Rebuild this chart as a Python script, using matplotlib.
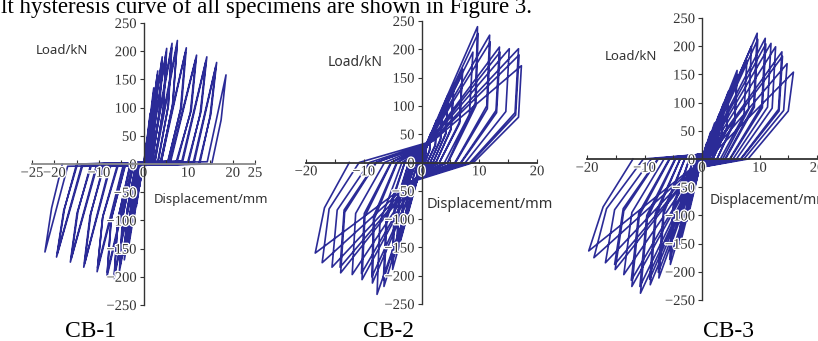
import numpy as np
import matplotlib
matplotlib.use("Agg")
import matplotlib.pyplot as plt
import matplotlib.patheffects as pe

# ---- CB-1 cycles (displacement mm, load kN), key points of each half loop ----
cb1_pos_load_d = [0.1, 0.1, 0.2, 0.2, 0.3, 0.4, 0.5, 0.6, 0.8, 0.9, 1.1, 1.3, 1.6, 1.8, 2.4, 2.6,
                  3.8, 4.0, 5.9, 6.1, 8.6, 8.8, 11.2, 11.4, 14.3]
cb1_pos_load_f = [3, 3, 4, 4, 5, 5, 5, 5, 6, 6, 6, 6, 6, 6, 6, 6, 5, 5, 5, 5, 5, 5, 4, 4, 4]
cb1_pos_peak_d = [0.8, 0.8, 1.5, 1.5, 2.3, 2.3, 3.2, 3.1, 4.2, 4.1, 5.2, 5.1, 6.4, 6.3, 7.6, 7.5,
                  9.6, 9.4, 11.9, 11.7, 14.2, 14.0, 16.4, 16.2, 18.5]
cb1_pos_peak_f = [45, 42, 90, 85, 135, 128, 165, 158, 190, 182, 205, 198, 214, 206, 219, 210,
                  206, 198, 193, 185, 190, 182, 180, 172, 158]
cb1_pos_unl_d = [0.6, 0.6, 1.2, 1.2, 1.9, 1.9, 2.7, 2.6, 3.6, 3.5, 4.5, 4.4, 5.6, 5.5, 6.6, 6.5,
                 8.5, 8.3, 10.7, 10.5, 12.9, 12.7, 15.1, 14.9, 17.4]
cb1_pos_unl_f = [22, 20, 45, 42, 66, 62, 80, 77, 93, 89, 100, 97, 105, 101, 108, 104,
                 101, 97, 95, 91, 93, 89, 88, 84, 78]
cb1_pos_zero = [0.3, 0.3, 0.6, 0.6, 1.0, 1.0, 1.4, 1.4, 1.9, 1.9, 2.4, 2.5, 3.1, 3.2, 3.8, 3.9,
                5.3, 5.4, 7.2, 7.4, 9.8, 10.0, 12.4, 12.6, 15.3]
cb1_neg_load_d = [-0.1, -0.1, -0.2, -0.2, -0.3, -0.3, -0.4, -0.5, -0.6, -0.7, -0.9, -1.0, -1.4, -1.5,
                  -2.4, -2.6, -4.4, -4.6, -7.4, -7.6, -10.4, -10.6, -13.7, -13.9, -17.0]
cb1_neg_load_f = [-4] * 25
cb1_neg_peak_d = [-0.9, -0.9, -1.6, -1.6, -2.4, -2.4, -3.3, -3.3, -4.3, -4.3, -5.4, -5.3, -6.6, -6.5,
                  -8.2, -8.1, -10.4, -10.3, -13.4, -13.2, -16.4, -16.2, -19.5, -19.3, -22.1]
cb1_neg_peak_f = [-40, -37, -75, -70, -110, -104, -145, -138, -170, -162, -190, -182, -203, -195,
                  -200, -192, -191, -184, -183, -176, -174, -167, -165, -158, -156]
cb1_neg_unl_d = [-0.7, -0.7, -1.3, -1.3, -2.0, -2.0, -2.8, -2.8, -3.7, -3.7, -4.7, -4.6, -5.8, -5.7,
                 -7.3, -7.2, -9.2, -9.1, -12.0, -11.8, -14.9, -14.7, -17.9, -17.7, -20.6]
cb1_neg_unl_f = [-20, -18, -38, -35, -55, -52, -72, -69, -85, -81, -95, -91, -100, -97,
                 -100, -96, -96, -92, -92, -88, -87, -84, -83, -79, -78]
cb1_neg_zero = [-0.3, -0.3, -0.5, -0.5, -0.8, -0.8, -1.2, -1.2, -1.7, -1.7, -2.2, -2.3, -2.9, -3.0,
                -4.0, -4.1, -5.6, -5.8, -8.7, -8.9, -11.6, -11.8, -14.8, -15.0, -18.2]

# ---- CB-2 cycles ----
cb2_pos_load_d = [0.1, 0.1, 0.1, 0.1, 0.2, 0.2, 0.2, 0.2, 0.3, 0.3, 0.3, 0.3, 0.3, 0.4, 0.4, 0.5,
                  0.5, 0.6, 0.7, 0.8, 0.9, 1.0, 1.5, 1.7, 2.0]
cb2_pos_load_f = [4, 4, 7, 7, 9, 9, 11, 11, 13, 13, 16, 16, 19, 20, 22, 25, 26, 28, 29, 30, 31, 32,
                  35, 36, 38]
cb2_pos_peak_d = [0.8, 0.8, 1.6, 1.6, 2.6, 2.6, 3.6, 3.6, 4.6, 4.6, 5.6, 5.6, 7.1, 7.1, 8.9, 9.7,
                  9.8, 11.8, 11.9, 13.5, 13.6, 15.2, 16.8, 16.9, 17.3]
cb2_pos_peak_f = [30, 28, 52, 49, 75, 71, 95, 90, 120, 114, 140, 133, 165, 157, 195, 240,
                  228, 225, 213, 204, 195, 201, 201, 190, 171]
cb2_pos_unl_d = [0.7, 0.7, 1.4, 1.4, 2.4, 2.4, 3.3, 3.3, 4.2, 4.2, 5.1, 5.1, 6.6, 6.6, 8.3, 9.3,
                 9.4, 11.3, 11.4, 12.9, 13.0, 14.6, 16.2, 16.3, 16.8]
cb2_pos_unl_f = [13, 12, 22, 21, 32, 30, 42, 40, 52, 50, 60, 58, 72, 69, 85, 105,
                 100, 100, 95, 92, 88, 90, 88, 84, 80]
cb2_pos_zero = [0.3, 0.3, 0.6, 0.6, 1.0, 1.0, 1.5, 1.5, 2.0, 2.0, 2.5, 2.5, 3.1, 3.1, 4.0, 4.5,
                4.6, 5.8, 5.9, 6.8, 6.9, 7.6, 8.4, 8.6, 9.0]
cb2_neg_load_d = [-0.1, -0.1, -0.1, -0.1, -0.2, -0.2, -0.2, -0.2, -0.3, -0.3, -0.3, -0.3, -0.4, -0.4,
                  -0.4, -0.5, -0.5, -0.6, -0.7, -0.8, -1.0, -1.1, -1.3, -1.6, -2.0]
cb2_neg_load_f = [-5, -5, -7, -7, -9, -9, -11, -11, -13, -13, -15, -15, -18, -18, -20, -22, -22,
                  -24, -25, -26, -28, -29, -30, -32, -35]
cb2_neg_peak_d = [-0.9, -0.9, -1.7, -1.7, -2.6, -2.6, -3.5, -3.5, -4.3, -4.3, -5.0, -5.1, -6.5, -6.6,
                  -7.7, -8.5, -8.6, -10.3, -10.4, -12.0, -14.0, -14.1, -15.5, -17.2, -18.4]
cb2_neg_peak_f = [-32, -30, -58, -55, -90, -85, -125, -118, -160, -151, -189, -178, -219, -207,
                  -233, -213, -202, -207, -196, -198, -195, -185, -185, -177, -160]
cb2_neg_unl_d = [-0.7, -0.7, -1.4, -1.4, -2.3, -2.3, -3.1, -3.1, -3.9, -3.9, -4.6, -4.7, -6.0, -6.1,
                 -7.2, -8.2, -8.3, -9.8, -9.9, -11.4, -13.3, -13.4, -14.6, -16.0, -16.8]
cb2_neg_unl_f = [-14, -13, -26, -24, -40, -38, -56, -53, -72, -68, -85, -80, -100, -95,
                 -105, -100, -95, -95, -90, -90, -88, -84, -84, -82, -80]
cb2_neg_zero = [-0.3, -0.3, -0.6, -0.6, -1.0, -1.0, -1.4, -1.4, -1.8, -1.8, -2.2, -2.2, -2.9, -2.9,
                -3.4, -4.2, -4.3, -5.2, -5.3, -6.4, -7.8, -7.9, -9.0, -10.8, -12.5]

# ---- CB-3 cycles ----
cb3_pos_load_d = [0.1, 0.1, 0.1, 0.1, 0.2, 0.2, 0.2, 0.2, 0.3, 0.3, 0.3, 0.3, 0.4, 0.4, 0.5, 0.5,
                  0.6, 0.6, 0.7, 0.8, 1.0, 1.2, 1.3, 1.5, 2.0]
cb3_pos_load_f = [2, 2, 3, 3, 4, 4, 5, 5, 6, 6, 6, 7, 7, 8, 8, 9, 9, 10, 10, 10, 10, 10, 10, 10, 10]
cb3_pos_peak_d = [0.8, 0.8, 1.5, 1.5, 2.2, 2.2, 3.0, 3.0, 3.8, 4.6, 4.6, 6.1, 6.1, 7.8, 8.6, 9.6,
                  9.7, 11.0, 11.1, 12.0, 12.8, 13.9, 14.0, 14.8, 15.9]
cb3_pos_peak_f = [28, 26, 48, 45, 64, 60, 80, 76, 100, 120, 114, 157, 149, 175, 200, 223,
                  212, 214, 204, 205, 199, 190, 182, 169, 154]
cb3_pos_unl_d = [0.7, 0.7, 1.3, 1.3, 2.0, 2.0, 2.8, 2.8, 3.5, 4.3, 4.3, 5.7, 5.7, 7.3, 8.1, 9.0,
                 9.1, 10.4, 10.5, 11.4, 12.2, 13.3, 13.4, 14.2, 15.0]
cb3_pos_unl_f = [12, 11, 19, 18, 27, 25, 35, 33, 45, 55, 52, 70, 66, 78, 88, 95,
                 92, 95, 91, 92, 90, 88, 85, 86, 85]
cb3_pos_zero = [0.3, 0.3, 0.6, 0.6, 0.9, 0.9, 1.2, 1.2, 1.6, 1.9, 1.9, 2.6, 2.6, 3.2, 3.6, 4.0,
                4.1, 4.8, 4.9, 5.4, 6.0, 6.7, 6.8, 7.3, 8.0]
cb3_neg_load_d = [-0.1, -0.1, -0.1, -0.1, -0.2, -0.2, -0.2, -0.2, -0.3, -0.3, -0.3, -0.4, -0.4, -0.5,
                  -0.5, -0.5, -0.6, -0.6, -0.7, -0.8, -1.0, -1.1, -1.3, -1.6, -2.0]
cb3_neg_load_f = [-4, -4, -5, -5, -6, -6, -7, -7, -8, -9, -9, -10, -10, -11, -11, -12, -12, -13,
                  -13, -14, -15, -15, -16, -17, -18]
cb3_neg_peak_d = [-0.9, -0.9, -1.6, -1.6, -2.2, -2.6, -2.7, -3.8, -3.9, -5.5, -5.6, -7.5, -7.6, -9.0,
                  -9.1, -10.7, -10.8, -12.2, -12.3, -13.6, -15.1, -15.2, -16.8, -18.8, -19.7]
cb3_neg_peak_f = [-28, -26, -55, -52, -85, -110, -104, -151, -143, -187, -178, -211, -201, -223,
                  -213, -238, -226, -226, -215, -205, -196, -187, -184, -175, -163]
cb3_neg_unl_d = [-0.7, -0.7, -1.4, -1.4, -1.9, -2.4, -2.5, -3.4, -3.5, -4.9, -5.0, -6.6, -6.7, -8.0,
                 -8.1, -9.5, -9.6, -10.9, -11.0, -12.2, -13.6, -13.7, -15.2, -16.6, -17.2]
cb3_neg_unl_f = [-13, -12, -25, -24, -40, -50, -47, -68, -65, -85, -81, -95, -91, -100,
                 -96, -105, -100, -100, -96, -95, -92, -88, -90, -88, -85]
cb3_neg_zero = [-0.3, -0.3, -0.6, -0.6, -0.9, -1.0, -1.0, -1.5, -1.5, -2.2, -2.2, -3.0, -3.0, -3.8,
                -3.8, -4.6, -4.7, -5.6, -5.7, -6.6, -7.6, -7.7, -8.8, -10.2, -12.0]

y_ticks = [-250, -200, -150, -100, -50, 0, 50, 100, 150, 200, 250]
cb1_x_ticks = [-25, -20, -15, -10, -5, 0, 5, 10, 15, 20, 25]
cb1_x_labels = ["\u221225", "\u221220", "", "\u221210", "", "0", "", "10", "", "20", "25"]
cb23_x_ticks = [-20, -15, -10, -5, 0, 5, 10, 15, 20]
cb23_x_labels = ["\u221220", "", "\u221210", "", "0", "", "10", "", "20"]
titles = ["CB-1", "CB-2", "CB-3"]

W, H = 818, 341
fig = plt.figure(figsize=(W / 100, H / 100), dpi=100)
line_color = "#2b2b97"


def loop_path(pl_d, pl_f, pp_d, pp_f, pu_d, pu_f, pz, nl_d, nl_f, np_d, np_f, nu_d, nu_f, nz):
    xs, ys = [0.0], [0.0]
    for i in range(len(pp_d)):
        xs += [pl_d[i], pp_d[i], pu_d[i], pz[i], nl_d[i], np_d[i], nu_d[i], nz[i]]
        ys += [pl_f[i], pp_f[i], pu_f[i], 0, nl_f[i], np_f[i], nu_f[i], 0]
    return xs, ys


def make_axes(rect, xlim, xticks, xlabels, xaxis_color):
    ax = fig.add_axes(rect)
    ax.set_xlim(*xlim)
    ax.set_ylim(-250, 250)
    ax.patch.set_alpha(0)
    for s in ["top", "right"]:
        ax.spines[s].set_visible(False)
    ax.spines["left"].set_position("zero")
    ax.spines["bottom"].set_position("zero")
    ax.spines["left"].set_color("#333333")
    ax.spines["bottom"].set_color(xaxis_color)
    ax.spines["left"].set_linewidth(1.0)
    ax.spines["bottom"].set_linewidth(1.3)
    ax.set_yticks(y_ticks)
    ax.set_yticklabels(["\u2212" + str(-v) if v < 0 else str(v) for v in y_ticks])
    ax.set_xticks(xticks)
    ax.set_xticklabels(xlabels)
    ax.tick_params(axis="y", direction="out", length=3, width=0.8, pad=2,
                   labelsize=10.5, colors="#333333")
    ax.tick_params(axis="x", direction="in", length=3, width=0.8, pad=2,
                   labelsize=10.5, colors="#333333")
    for lab in ax.get_xticklabels() + ax.get_yticklabels():
        lab.set_fontfamily("Liberation Serif")
        lab.set_path_effects([pe.withStroke(linewidth=2, foreground="white")])
    return ax


def rect_px(x0, x1, y_top, y_bot):
    return [x0 / W, 1 - y_bot / H, (x1 - x0) / W, (y_bot - y_top) / H]


ax1 = make_axes(rect_px(32, 255, 23, 305), (-25, 25), cb1_x_ticks, cb1_x_labels, "#8a8a8a")
ax2 = make_axes(rect_px(306, 537, 21, 304), (-20, 20), cb23_x_ticks, cb23_x_labels, "#333333")
ax3 = make_axes(rect_px(587, 817, 18, 300), (-20, 20), cb23_x_ticks, cb23_x_labels, "#333333")

x1, y1 = loop_path(cb1_pos_load_d, cb1_pos_load_f, cb1_pos_peak_d, cb1_pos_peak_f,
                   cb1_pos_unl_d, cb1_pos_unl_f, cb1_pos_zero,
                   cb1_neg_load_d, cb1_neg_load_f, cb1_neg_peak_d, cb1_neg_peak_f,
                   cb1_neg_unl_d, cb1_neg_unl_f, cb1_neg_zero)
x2, y2 = loop_path(cb2_pos_load_d, cb2_pos_load_f, cb2_pos_peak_d, cb2_pos_peak_f,
                   cb2_pos_unl_d, cb2_pos_unl_f, cb2_pos_zero,
                   cb2_neg_load_d, cb2_neg_load_f, cb2_neg_peak_d, cb2_neg_peak_f,
                   cb2_neg_unl_d, cb2_neg_unl_f, cb2_neg_zero)
x3, y3 = loop_path(cb3_pos_load_d, cb3_pos_load_f, cb3_pos_peak_d, cb3_pos_peak_f,
                   cb3_pos_unl_d, cb3_pos_unl_f, cb3_pos_zero,
                   cb3_neg_load_d, cb3_neg_load_f, cb3_neg_peak_d, cb3_neg_peak_f,
                   cb3_neg_unl_d, cb3_neg_unl_f, cb3_neg_zero)

for ax, xs, ys in [(ax1, x1, y1), (ax2, x2, y2), (ax3, x3, y3)]:
    ax.plot(xs, ys, color=line_color, lw=1.2, zorder=1.5, solid_joinstyle="round")

# axis titles
sans = "Noto Sans"
fig.text(62 / W, 1 - 50 / H, "Load/kN", ha="center", va="center", fontsize=9.5,
         family=sans, color="#333333")
fig.text(355 / W, 1 - 62 / H, "Load/kN", ha="center", va="center", fontsize=10,
         family=sans, color="#333333")
fig.text(631 / W, 1 - 57 / H, "Load/kN", ha="center", va="center", fontsize=9.5,
         family=sans, color="#333333")
fig.text(154 / W, 1 - 200 / H, "Displacement/mm", ha="left", va="center", fontsize=9.5,
         family=sans, color="#333333")
fig.text(427 / W, 1 - 205 / H, "Displacement/mm", ha="left", va="center", fontsize=10.5,
         family=sans, color="#333333")
fig.text(710 / W, 1 - 200 / H, "Displacement/mm", ha="left", va="center", fontsize=10,
         family=sans, color="#333333")

# panel captions
for t, cx in zip(titles, [91, 389, 728]):
    fig.text(cx / W, 1 - 337 / H, t, ha="center", va="baseline", fontsize=17,
             family="Liberation Serif", color="black")

# running text of the page, cut at the top
fig.text(0.001, 1 - 13 / H, "lt hysteresis curve of all specimens are shown in Figure 3.",
         ha="left", va="baseline", fontsize=16.5, family="Liberation Serif", color="black")

fig.savefig("out.png", dpi=100)
